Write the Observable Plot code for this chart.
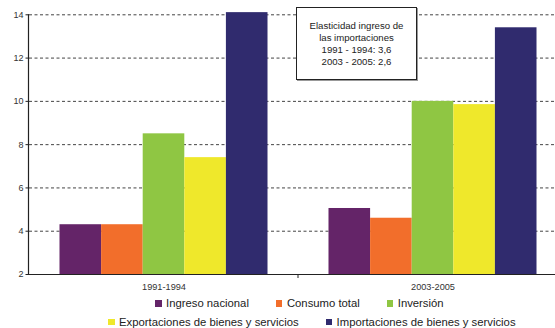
<!DOCTYPE html>
<html>
<head>
<meta charset="utf-8">
<script src="https://cdn.jsdelivr.net/npm/d3@7"></script>
<script src="https://cdn.jsdelivr.net/npm/@observablehq/plot@0.6"></script>
<style>
  body { margin: 0; background: #fff; font-family: "Liberation Sans", Arial, sans-serif; }
  #chart { position: relative; width: 555px; height: 328px; overflow: hidden; background: #fff; }
  #chart svg { overflow: hidden; }
  .note {
    position: absolute; left: 296px; top: 7px; width: 121px; height: 73px;
    box-sizing: border-box; border: 1.2px solid #222; box-shadow: 1px 1px 0 #999;
    background: #fff; display: flex; flex-direction: column; justify-content: center;
    align-items: center; font-size: 9.6px; line-height: 12px; color: #222;
  }
  .legend-row { display: flex; align-items: center; height: 18.7px; font-size: 11.3px; color: #222; white-space: nowrap; }
  .item { display: flex; align-items: center; margin-right: 27px; }
  .sw { width: 6.5px; height: 6.5px; margin-right: 4.5px; flex: none; }
</style>
</head>
<body>
<div id="chart"></div>
<script>
// Growth indices by period
const periods = ["1991-1994", "2003-2005"];
const series = [
  "Ingreso nacional",
  "Consumo total",
  "Inversión",
  "Exportaciones de bienes y servicios",
  "Importaciones de bienes y servicios"
];
const values1991 = [4.3, 4.3, 8.5, 7.4, 14.1];
const values2003 = [5.05, 4.6, 10.0, 9.85, 13.4];
const colors = ["#642468", "#F26E2B", "#8FC643", "#EFE82B", "#302B6E"];
const yTicks = [2, 4, 6, 8, 10, 12, 14];
const noteLines = [
  "Elasticidad ingreso de",
  "las importaciones",
  "1991 - 1994: 3,6",
  "2003 - 2005: 2,6"
];
const legendRows = [[0, 1, 2], [3, 4]];

const valuesByPeriod = [values1991, values2003];
const rows = periods.flatMap((p, i) =>
  series.map((s, j) => ({period: p, series: s, value: valuesByPeriod[i][j]}))
);

const chart = Plot.plot({
  width: 555,
  height: 294,
  marginLeft: 28.5,
  marginRight: 0,
  marginTop: 14.3,
  marginBottom: 20,
  style: {fontFamily: "'Liberation Sans', Arial, sans-serif", background: "#fff", overflow: "hidden"},
  fx: {domain: periods, range: [28.5, 566.5], padding: 0, label: null},
  x: {domain: series, paddingInner: 0, paddingOuter: 0.733, round: false, axis: null},
  y: {domain: [2, 14], label: null},
  color: {domain: series, range: colors},
  marks: [
    Plot.ruleY(yTicks.filter(t => t > 2), {stroke: "#444", strokeWidth: 1, strokeDasharray: "3,2.5"}),
    Plot.barY(rows, {fx: "period", x: "series", y1: 2, y2: "value", fill: "series"}),
    Plot.ruleY([2], {stroke: "#222", strokeWidth: 1.2}),
    Plot.axisY({ticks: yTicks, tickSize: 3.5, tickPadding: 2.5, fontSize: 9, color: "#333", stroke: "#222", label: null}),
    Plot.axisFx({anchor: "bottom", tickSize: 0, tickPadding: 9, fontSize: 9.2, color: "#333", label: null})
  ]
});

// Vertical axis line and the tick separating the two periods
const fxScale = chart.scale("fx");
const yScale = chart.scale("y");
const svg = d3.select(chart);
const left = fxScale.range[0];
svg.append("line")
  .attr("x1", left).attr("x2", left)
  .attr("y1", yScale.apply(yTicks[yTicks.length - 1])).attr("y2", yScale.apply(yTicks[0]))
  .attr("stroke", "#222").attr("stroke-width", 1.2);
svg.append("line")
  .attr("x1", fxScale.apply(periods[1])).attr("x2", fxScale.apply(periods[1]))
  .attr("y1", yScale.apply(yTicks[0])).attr("y2", yScale.apply(yTicks[0]) + 4)
  .attr("stroke", "#222").attr("stroke-width", 1);

const root = document.getElementById("chart");
root.appendChild(chart);

// Note box
const note = document.createElement("div");
note.className = "note";
noteLines.forEach(t => {
  const d = document.createElement("div");
  d.textContent = t;
  note.appendChild(d);
});
root.appendChild(note);

// Legend
const rowOffsets = [155, 108];
legendRows.forEach((idx, r) => {
  const row = document.createElement("div");
  row.className = "legend-row";
  row.style.paddingLeft = rowOffsets[r] + "px";
  idx.forEach(i => {
    const item = document.createElement("div");
    item.className = "item";
    const sw = document.createElement("span");
    sw.className = "sw";
    sw.style.background = colors[i];
    const label = document.createElement("span");
    label.textContent = series[i];
    item.appendChild(sw);
    item.appendChild(label);
    row.appendChild(item);
  });
  root.appendChild(row);
});
</script>
</body>
</html>
